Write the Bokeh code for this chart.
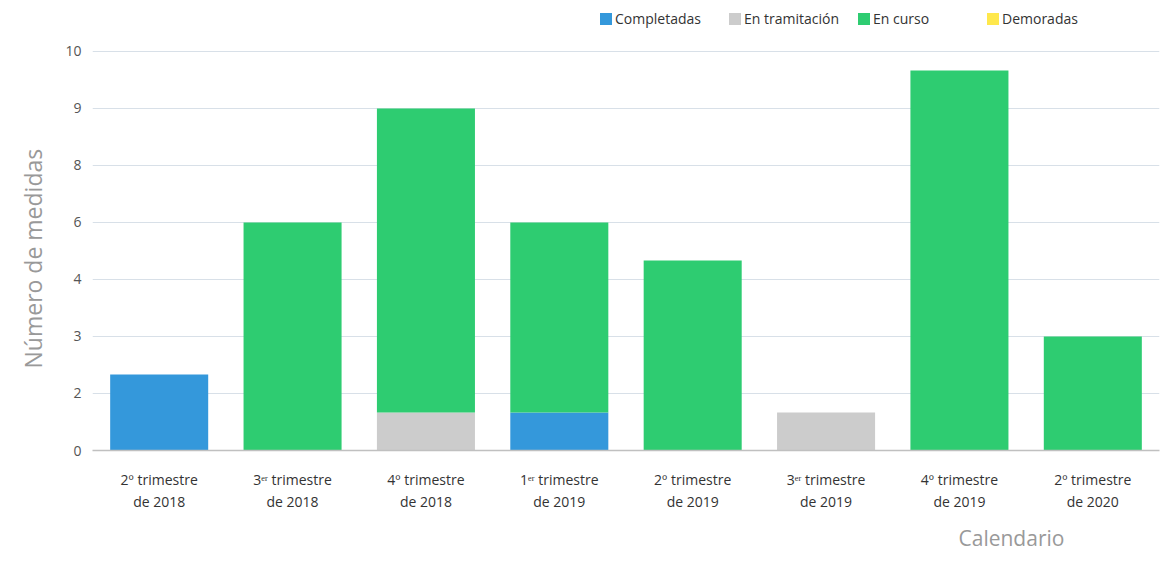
from bokeh.plotting import figure
from bokeh.models import (ColumnDataSource, FactorRange, Range1d, FixedTicker,
                          Legend, LegendItem, Title)
from bokeh.embed import file_html
from bokeh.resources import INLINE

# ---- data ----
periods = [
    "2º trimestre\nde 2018",
    "3ᵉʳ trimestre\nde 2018",
    "4º trimestre\nde 2018",
    "1ᵉʳ trimestre\nde 2019",
    "2º trimestre\nde 2019",
    "3ᵉʳ trimestre\nde 2019",
    "4º trimestre\nde 2019",
    "2º trimestre\nde 2020",
]
completadas = [2, 0, 0, 1, 0, 0, 0, 0]
en_tramitacion = [0, 0, 1, 0, 0, 1, 0, 0]
en_curso = [0, 6, 8, 5, 5, 0, 10, 3]
demoradas = [0, 0, 0, 0, 0, 0, 0, 0]

series_names = ["Completadas", "En tramitación", "En curso", "Demoradas"]
series_colors = ["#3498db", "#cccccc", "#2ecc71", "#ffe84c"]

y_ticks = [0, 1.5, 3, 4.5, 6, 7.5, 9, 10.5]
y_tick_labels = ["0", "2", "3", "4", "6", "8", "9", "10"]

FONT = "Open Sans"

source = ColumnDataSource(dict(
    period=periods,
    completadas=completadas,
    en_tramitacion=en_tramitacion,
    en_curso=en_curso,
    demoradas=demoradas,
))

# frame runs from the top of the canvas so that the legend sits inside it
p = figure(
    x_range=FactorRange(*periods),
    y_range=Range1d(0, 11.71),
    width=1160, height=558,
    output_backend="svg", toolbar_location=None,
    min_border_left=92, min_border_right=1,
    min_border_top=5, min_border_bottom=108,
)
p.outline_line_color = None
p.background_fill_color = "white"
p.border_fill_color = "white"

renderers = p.vbar_stack(
    ["completadas", "en_tramitacion", "en_curso", "demoradas"],
    x="period", width=0.735, fill_color=series_colors, line_color=None,
    source=source,
)

# axes
p.xgrid.grid_line_color = None
p.ygrid.grid_line_color = "#d8e0e8"
p.ygrid.grid_line_width = 1

p.yaxis.ticker = FixedTicker(ticks=y_ticks)
p.yaxis.major_label_overrides = {t: l for t, l in zip(y_ticks, y_tick_labels)}
p.yaxis.axis_line_color = None
p.yaxis.major_tick_line_color = None
p.yaxis.minor_tick_line_color = None
p.yaxis.major_label_text_font = FONT
p.yaxis.major_label_text_font_size = "14px"
p.yaxis.major_label_text_color = "#555555"
p.yaxis.major_label_standoff = 5

p.xaxis.axis_line_color = "#c0c0c0"
p.xaxis.axis_line_width = 1.5
p.xaxis.major_tick_line_color = None
p.xaxis.minor_tick_line_color = None
p.xaxis.major_label_text_font = FONT
p.xaxis.major_label_text_font_size = "14px"
p.xaxis.major_label_text_color = "#333333"
p.xaxis.major_label_standoff = 13

# axis titles as side-panel titles
p.add_layout(Title(text="Número de medidas", align="left", offset=82,
                   text_font=FONT, text_font_size="23px",
                   text_font_style="normal", text_color="#999999",
                   standoff=28), "left")
p.add_layout(Title(text="Calendario", align="left", offset=866,
                   text_font=FONT, text_font_size="21px",
                   text_font_style="normal", text_color="#999999",
                   standoff=14), "below")

# legend
legend = Legend(
    items=[LegendItem(label=n, renderers=[r]) for n, r in zip(series_names, renderers)],
    location=(506, 422), orientation="horizontal",
    padding=0, margin=0, spacing=0,
    glyph_width=15, glyph_height=15, label_height=15, label_width=112,
    label_standoff=2, label_text_font=FONT,
    label_text_font_size="14px", label_text_color="#333333",
    border_line_color=None, background_fill_alpha=0,
)
p.add_layout(legend, "center")

open("out.html", "w").write(file_html(p, INLINE))
